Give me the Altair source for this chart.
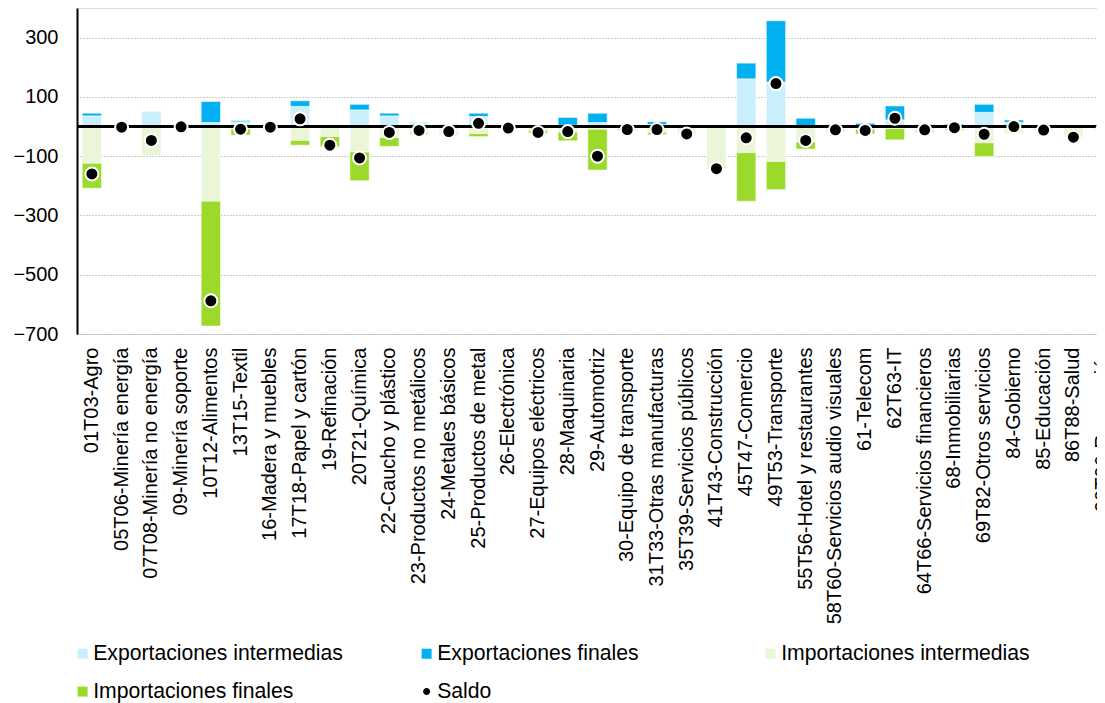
import altair as alt
import pandas as pd

categorias = [
    "01T03-Agro", "05T06-Minería energía", "07T08-Minería no energía", "09-Minería soporte",
    "10T12-Alimentos", "13T15-Textil", "16-Madera y muebles", "17T18-Papel y cartón",
    "19-Refinación", "20T21-Química", "22-Caucho y plástico", "23-Productos no metálicos",
    "24-Metales básicos", "25-Productos de metal", "26-Electrónica", "27-Equipos eléctricos",
    "28-Maquinaria", "29-Automotriz", "30-Equipo de transporte", "31T33-Otras manufacturas",
    "35T39-Servicios públicos", "41T43-Construcción", "45T47-Comercio", "49T53-Transporte",
    "55T56-Hotel y restaurantes", "58T60-Servicios audio visuales", "61-Telecom", "62T63-IT",
    "64T66-Servicios financieros", "68-Inmobiliarias", "69T82-Otros servicios", "84-Gobierno",
    "85-Educación", "86T88-Salud", "90T96-Recreación",
]
exp_intermedias = [36, 0.5, 53, 0.5, 13.5, 16, 6, 68, 4, 56, 36, 11, 7, 34, 2, 2, 4.5, 13.5, 2, 7,
                   1, 1, 161, 150, 3, 4, 3, 22.5, 6, 3, 48, 14, 2, 1, 3]
exp_finales = [9, 0, 0, 0, 71, 4, 0, 19, 1, 19, 9, 2, 2, 11, 1, 0, 26, 31.5, 1, 9,
               0, 0, 53, 207, 25, 2, 8, 47, 2, 5, 27, 8, 1, 0, 1]
imp_intermedias = [-124, -2, -98, -1, -252, -8, -6, -47, -34, -86, -37, -22, -24, -24, -5, -14, -19, -9, -9, -20,
                   -24, -143, -88, -118, -52, -14, -9, -7, -15, -8, -55, -20, -14, -36, -10]
imp_finales = [-84, -0.5, 0, 0, -421, -21, -2, -16, -34, -97, -30, -4, -3, -10, -3, -8, -29, -138, -4, -7,
               -2, 0, -164, -95, -24, -3, -16, -38, -4, -4, -46, -2, -1, -1, -2]
saldo = [-160, -2, -47, -1, -588, -9, -2, 26, -63, -106, -20, -13, -17, 11, -5, -20, -17, -100, -10, -10,
         -25, -142, -38, 145, -47, -11, -13, 28, -11, -4, -26, 0, -12, -36, -8]

series = ["Exportaciones intermedias", "Exportaciones finales", "Importaciones intermedias",
          "Importaciones finales", "Saldo"]
colores = ["#C9EEFC", "#00B0F0", "#EBF6D8", "#9BDA2A", "#000000"]
circulo = "M-0.7,0A0.7,0.7 0 1,0 0.7,0A0.7,0.7 0 1,0 -0.7,0Z"
formas = ["square", "square", "square", "square", circulo]

rows = []
for i, c in enumerate(categorias):
    for k, vals in enumerate([exp_intermedias, exp_finales, imp_intermedias, imp_finales]):
        rows.append({"categoria": c, "serie": series[k], "orden": k, "valor": vals[i]})
bars_df = pd.DataFrame(rows)
saldo_df = pd.DataFrame({"categoria": categorias, "serie": ["Saldo"] * len(categorias), "valor": saldo})

FONT = "Liberation Sans"

x_enc = alt.X(
    "categoria:N", sort=categorias,
    scale=alt.Scale(paddingInner=0.35, paddingOuter=0.175, range=[0, 1041]),
    axis=alt.Axis(title=None, labelAngle=270, labelFontSize=20, labelFont=FONT, labelColor="#000000",
                  ticks=False, tickSize=0, domain=False, grid=False, labelPadding=13, labelLimit=400),
)
y_scale = alt.Scale(domain=[-700, 400], nice=False, zero=False)
y_axis = alt.Axis(title=None, values=[300, 100, -100, -300, -500, -700], ticks=False, tickSize=0,
                  domain=True, domainColor="#000000", domainWidth=2, grid=True, gridDash=[1, 2],
                  gridColor="#9a9a9a", gridWidth=1, labelPadding=19, labelFontSize=20, labelFont=FONT,
                  labelColor="#000000")

color_scale = alt.Scale(domain=series, range=colores)
shape_scale = alt.Scale(domain=series, range=formas)
leyenda = alt.Legend(title=None, orient="none", legendX=-5, legendY=635, columns=3, gridAlign="all",
                     direction="horizontal",
                     columnPadding=73, rowPadding=16, symbolSize=100, labelFontSize=21.2, labelFont=FONT,
                     labelColor="#000000", labelLimit=400, labelOffset=0, padding=0,
                     symbolStrokeWidth=0)

barras = alt.Chart(bars_df).mark_bar(stroke="white", strokeWidth=0.7, strokeOpacity=0.8).encode(
    x=x_enc,
    y=alt.Y("valor:Q", stack="zero", scale=y_scale, axis=y_axis),
    color=alt.Color("serie:N", scale=color_scale, legend=leyenda),
    order=alt.Order("orden:Q"),
)

cero = alt.Chart(saldo_df).mark_rule(color="#000000", strokeWidth=2).encode(y=alt.datum(0))

puntos = alt.Chart(saldo_df).mark_point(filled=True, opacity=1, stroke="white", strokeWidth=2, size=345).encode(
    x=x_enc,
    y=alt.Y("valor:Q", stack=None, scale=y_scale),
    color=alt.Color("serie:N", scale=color_scale, legend=leyenda),
    shape=alt.Shape("serie:N", scale=shape_scale, legend=leyenda),
)

chart = alt.layer(barras, cero, puntos).properties(
    width=1020, height=326,
    padding={"left": 69, "top": 0, "right": 0, "bottom": 370},
    autosize=alt.AutoSizeParams(type="none"),
).configure_view(stroke=None).configure(background="white")

chart.save("out.html", embed_options={"renderer": "svg", "actions": False})
